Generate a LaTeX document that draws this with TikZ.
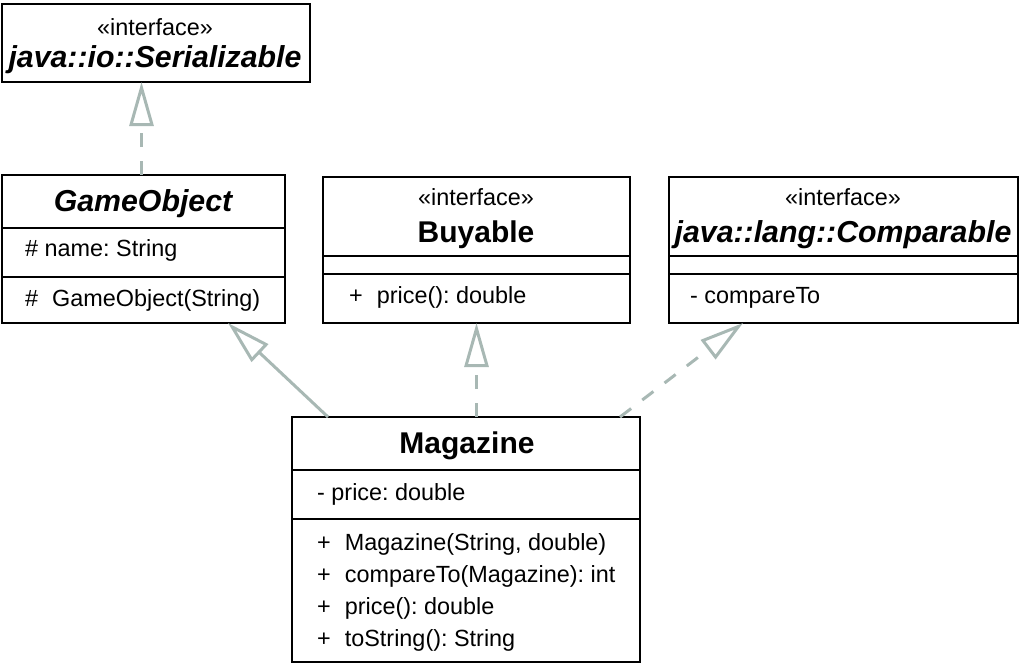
\documentclass[tikz,border=0pt]{standalone}
\usepackage{fontspec}
\setmainfont{Liberation Sans}
\usetikzlibrary{arrows.meta}
\definecolor{arrowgray}{RGB}{168,184,180}
\tikzset{
  box/.style={draw=black, line width=2pt, fill=white, inner sep=0pt, outer sep=0pt, anchor=north west},
  sepline/.style={draw=black, line width=2pt},
  txt/.style={inner sep=0pt, font=\fontsize{23.4}{28}\selectfont\frenchspacing},
  ttl/.style={inner sep=0pt, font=\fontsize{30}{36}\selectfont\bfseries},
  ittl/.style={inner sep=0pt, font=\fontsize{30.3}{36}\selectfont\bfseries\itshape},
  realize/.style={draw=arrowgray, line width=3pt, dash pattern=on 14pt off 14pt, -{Triangle[open, length=44pt, width=24pt, line width=3pt]}},
  inherit/.style={draw=arrowgray, line width=3pt, -{Triangle[open, length=44pt, width=24pt, line width=3pt]}}
}
\begin{document}
\begin{tikzpicture}[x=1pt,y=-1pt]
\useasboundingbox (0,0) rectangle (1024,665);
% boxes
\node[box, minimum width=308pt, minimum height=78pt] (ser) at (2,4) {};
\node[box, minimum width=283pt, minimum height=148pt] (go) at (2,175) {};
\node[box, minimum width=307pt, minimum height=146pt] (buy) at (323,177) {};
\node[box, minimum width=349pt, minimum height=146pt] (cmp) at (669,177) {};
\node[box, minimum width=348pt, minimum height=245pt] (mag) at (292,417) {};
% separators
\draw[sepline] ([yshift=-53pt]go.north west) -- ([yshift=-53pt]go.north east);
\draw[sepline] ([yshift=-102pt]go.north west) -- ([yshift=-102pt]go.north east);
\draw[sepline] ([yshift=-79pt]buy.north west) -- ([yshift=-79pt]buy.north east);
\draw[sepline] ([yshift=-97pt]buy.north west) -- ([yshift=-97pt]buy.north east);
\draw[sepline] ([yshift=-79pt]cmp.north west) -- ([yshift=-79pt]cmp.north east);
\draw[sepline] ([yshift=-97pt]cmp.north west) -- ([yshift=-97pt]cmp.north east);
\draw[sepline] ([yshift=-53pt]mag.north west) -- ([yshift=-53pt]mag.north east);
\draw[sepline] ([yshift=-102pt]mag.north west) -- ([yshift=-102pt]mag.north east);
% texts: Serializable
\node[txt, anchor=base] (serst) at (155,35) {«interface»};
\node[ittl, anchor=base] (sername) at (155,67) {java::io::Serializable};
% GameObject
\node[ittl, anchor=base] (goname) at (143,211) {GameObject};
\node[txt, anchor=base west] (goattr) at (25,256) {\# name: String};
\node[txt, anchor=base west] (goop) at (25,306) {\#\hspace{14pt}GameObject(String)};
% Buyable
\node[txt, anchor=base] (buyst) at (476,205) {«interface»};
\node[ttl, anchor=base] (buyname) at (476,242) {Buyable};
\node[txt, anchor=base west] (buyop) at (349,303) {+\hspace{14pt}price(): double};
% Comparable
\node[txt, anchor=base] (cmpst) at (843,205) {«interface»};
\node[ittl, anchor=base] (cmpname) at (843,242) {java::lang::Comparable};
\node[txt, anchor=base west] (cmpop) at (690,303) {- compareTo};
% Magazine
\node[ttl, anchor=base] (magname) at (467,453) {Magazine};
\node[txt, anchor=base west] (magattr) at (317,500) {- price: double};
\node[txt, anchor=base west] (magop1) at (317,550) {+\hspace{14pt}Magazine(String, double)};
\node[txt, anchor=base west] (magop2) at (317,582) {+\hspace{14pt}compareTo(Magazine): int};
\node[txt, anchor=base west] (magop3) at (317,614) {+\hspace{14pt}price(): double};
\node[txt, anchor=base west] (magop4) at (317,646) {+\hspace{14pt}toString(): String};
% connectors
\draw[realize] ([xshift=-2pt]go.north) -- ([xshift=-2pt]go.north |- ser.south);
\draw[inherit] ([xshift=36pt]mag.north west) -- ([xshift=226pt]go.south west);
\draw[realize] (buy.south |- mag.north) -- (buy.south);
\draw[realize] ([xshift=-20pt]mag.north east) -- ([xshift=74pt]cmp.south west);
\end{tikzpicture}
\end{document}
